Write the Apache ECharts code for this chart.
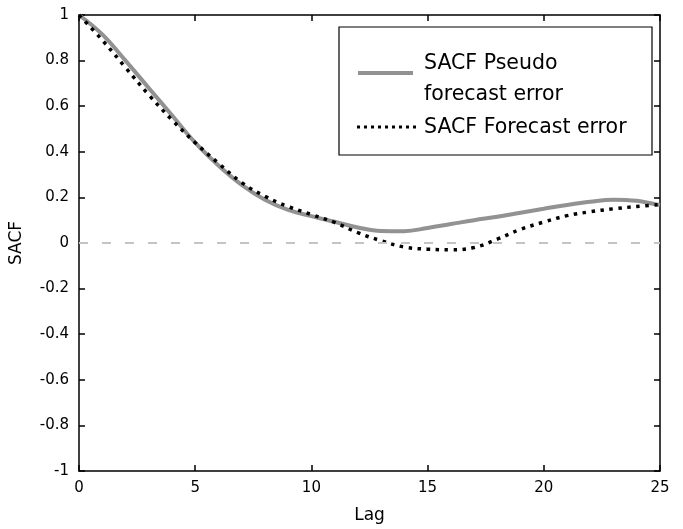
<!DOCTYPE html>
<html>
<head>
<meta charset="utf-8">
<script src="https://cdn.jsdelivr.net/npm/echarts@6/dist/echarts.min.js"></script>
<style>html,body{margin:0;padding:0;background:#fff;}#c{width:683px;height:529px;}</style>
</head>
<body>
<div id="c"></div>
<script>
var lags = [0,1,2,3,4,5,6,7,8,9,10,11,12,13,14,15,16,17,18,19,20,21,22,23,24,25];
var pseudoSACF = [1.0,0.915,0.80,0.68,0.56,0.44,0.34,0.255,0.19,0.145,0.118,0.093,0.068,0.053,0.052,0.066,0.083,0.10,0.115,0.133,0.15,0.167,0.181,0.19,0.185,0.166];
var forecastSACF = [1.0,0.89,0.77,0.65,0.54,0.44,0.35,0.265,0.205,0.16,0.125,0.09,0.045,0.01,-0.018,-0.027,-0.03,-0.02,0.017,0.06,0.092,0.12,0.137,0.15,0.16,0.168];
var zeroLevel = 0;
var legendLines = ['SACF Pseudo','forecast error','SACF Forecast error'];

function pairs(ys){ return lags.map(function(x,i){ return [x, ys[i]]; }); }

var font = 'DejaVu Sans';
var grayCol = '#929292';
var chart = echarts.init(document.getElementById('c'), null, {renderer:'canvas'});
var axisLine = {show:true, onZero:false, lineStyle:{color:'#000', width:1.5}};
var tick = {show:true, inside:true, length:6, lineStyle:{color:'#000', width:1.5}};
var legFont = {fontFamily:font, fontSize:20.5, fill:'#000'};
chart.setOption({
  animation:false,
  backgroundColor:'#fff',
  grid:{left:78, right:23, top:15, bottom:56},
  xAxis:[{
    type:'value', min:0, max:25, interval:5, position:'bottom',
    name:'Lag', nameLocation:'middle', nameGap:36,
    nameTextStyle:{fontFamily:font, fontSize:17, color:'#000'},
    axisLine:axisLine, axisTick:tick,
    axisLabel:{fontFamily:font, fontSize:15, color:'#000', margin:10},
    splitLine:{show:false}
  },{
    type:'value', min:0, max:25, interval:5, position:'top',
    axisLine:axisLine, axisTick:tick, axisLabel:{show:false}, splitLine:{show:false}
  }],
  yAxis:[{
    type:'value', min:-1, max:1, interval:0.2, position:'left',
    name:'SACF', nameLocation:'middle', nameGap:54, nameRotate:90,
    nameTextStyle:{fontFamily:font, fontSize:17, color:'#000'},
    axisLine:axisLine, axisTick:tick,
    axisLabel:{fontFamily:font, fontSize:15, color:'#000', margin:10,
      formatter:function(v){ return String(Math.round(v*10)/10); }},
    splitLine:{show:false}
  },{
    type:'value', min:-1, max:1, interval:0.2, position:'right',
    axisLine:axisLine, axisTick:tick, axisLabel:{show:false}, splitLine:{show:false}
  }],
  graphic:[
    {type:'rect', shape:{x:339, y:27, width:313, height:128}, style:{fill:'#fff', stroke:'#000', lineWidth:1.2}, z:10},
    {type:'line', shape:{x1:358, y1:73, x2:413, y2:73}, style:{stroke:grayCol, lineWidth:4}, z:11},
    {type:'line', shape:{x1:357, y1:127, x2:416, y2:127}, style:{stroke:'#000', lineWidth:3, lineDash:[3,4]}, z:11},
    {type:'text', left:424, top:53, style:Object.assign({text:legendLines[0]}, legFont), z:11},
    {type:'text', left:424, top:84, style:Object.assign({text:legendLines[1]}, legFont), z:11},
    {type:'text', left:424, top:117, style:Object.assign({text:legendLines[2]}, legFont), z:11}
  ],
  series:[{
    name:'SACF Pseudo forecast error', type:'line', smooth:0.4, symbol:'none',
    data:pairs(pseudoSACF),
    lineStyle:{color:grayCol, width:4},
    markLine:{
      silent:true, symbol:'none', label:{show:false},
      lineStyle:{color:'#c4c4c4', width:2, type:[9,14]},
      data:[{yAxis:zeroLevel}]
    },
    z:3
  },{
    name:'SACF Forecast error', type:'line', smooth:0.4, symbol:'none',
    data:pairs(forecastSACF),
    lineStyle:{color:'#000', width:3.5, type:[3.5,5.5]},
    z:4
  }]
});
</script>
</body>
</html>
